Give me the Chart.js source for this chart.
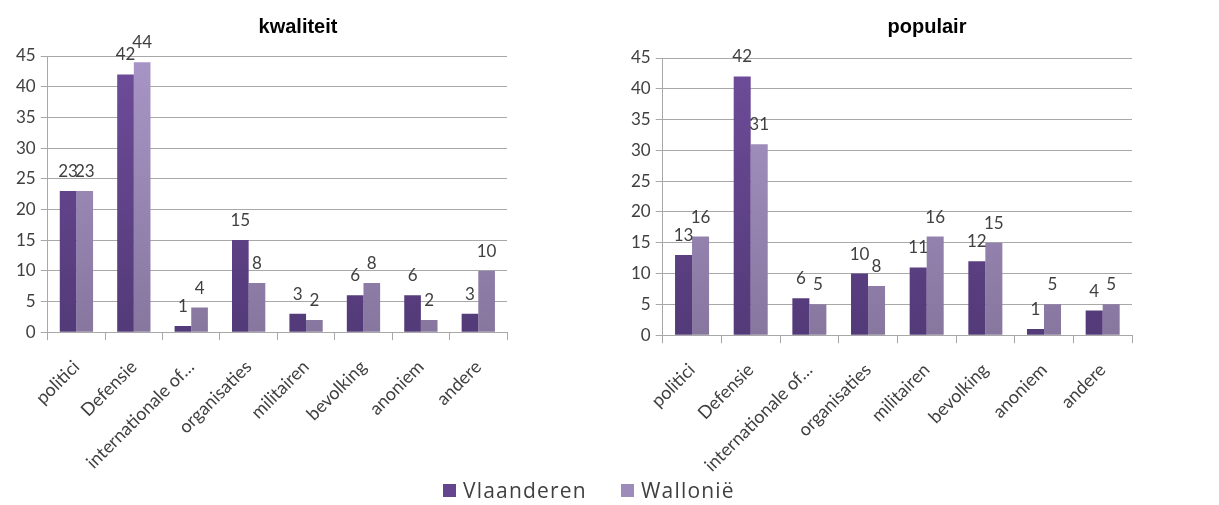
<!DOCTYPE html>
<html>
<head>
<meta charset="utf-8">
<script src="https://cdn.jsdelivr.net/npm/chart.js@4.4.0/dist/chart.umd.min.js"></script>
<style>
body { margin: 0; background: #fff; width: 1219px; height: 505px; overflow: hidden; position: relative; font-family: Lato, sans-serif; }
canvas { position: absolute; top: 0; }
#kwaliteit { left: 0; }
#populair { left: 608px; }
.legend { position: absolute; top: 476px; left: 443px; display: flex; align-items: center; font-family: 'Open Sans', sans-serif; font-size: 21px; letter-spacing: 1.2px; color: #404040; }
.legend span.box { display: inline-block; width: 13px; height: 13px; margin-right: 7px; }
.legend .item { display: flex; align-items: center; margin-right: 34px; }
</style>
</head>
<body>
<canvas id="kwaliteit" width="605" height="489"></canvas>
<canvas id="populair" width="620" height="492"></canvas>
<div class="legend">
  <div class="item"><span class="box" style="background:#65468e"></span>Vlaanderen</div>
  <div class="item"><span class="box" style="background:#9d8bba"></span>Wallonië</div>
</div>
<script>
// categorieën en waarden per bron
const categories = ['politici', 'Defensie', 'internationale of…', 'organisaties', 'militairen', 'bevolking', 'anoniem', 'andere'];
const yTicks = [0, 5, 10, 15, 20, 25, 30, 35, 40, 45];

const kwaliteitVlaanderen = [23, 42, 1, 15, 3, 6, 6, 3];
const kwaliteitWallonie = [23, 44, 4, 8, 2, 8, 2, 10];

const populairVlaanderen = [13, 42, 6, 10, 11, 12, 1, 4];
const populairWallonie = [16, 31, 5, 8, 16, 15, 5, 5];

const textColor = '#404040';
const lineColor = '#a8a8a8';

// verticale kleurverloop per balk
function shade(top, bottom) {
    return function(context) {
        const chart = context.chart;
        const area = chart.chartArea;
        if (!area) return top;
        const g = chart.ctx.createLinearGradient(0, area.top, 0, area.bottom);
        g.addColorStop(0, top);
        g.addColorStop(1, bottom);
        return g;
    };
}

// waarden boven de balken
const valueLabels = {
    id: 'valueLabels',
    afterDatasetsDraw(chart) {
        const ctx = chart.ctx;
        ctx.save();
        ctx.font = '17px Lato';
        ctx.fillStyle = textColor;
        ctx.textAlign = 'center';
        ctx.textBaseline = 'bottom';
        chart.data.datasets.forEach((ds, i) => {
            chart.getDatasetMeta(i).data.forEach((bar, j) => {
                ctx.fillText(ds.data[j], bar.x, bar.y - 11);
            });
        });
        ctx.restore();
    }
};

// rightSpace = lege ruimte rechts van het diagram (daar stond de legende)
function makeChart(id, title, vl, wa, pad, titleGap, rightSpace) {
    const ctx = document.getElementById(id).getContext('2d');
    return new Chart(ctx, {
        type: 'bar',
        data: {
            labels: categories,
            datasets: [
                { label: 'Vlaanderen', data: vl, backgroundColor: shade('#6e4c9a', '#533a78') },
                { label: 'Wallonië', data: wa, backgroundColor: shade('#a895c6', '#87779f') }
            ]
        },
        options: {
            responsive: false,
            animation: false,
            categoryPercentage: 0.58,
            barPercentage: 1.0,
            layout: { padding: pad },
            plugins: {
                legend: { display: false },
                tooltip: { enabled: false },
                title: {
                    display: true,
                    text: title,
                    color: '#000',
                    font: { family: 'Liberation Sans', size: 20, weight: 'bold' },
                    padding: { top: 15, bottom: titleGap }
                }
            },
            scales: {
                x: {
                    grid: { offset: true, drawOnChartArea: false, drawTicks: true, tickLength: 8, color: lineColor },
                    border: { color: lineColor },
                    ticks: { color: textColor, font: { family: 'Lato', size: 18 }, padding: 16, maxRotation: 45, minRotation: 45, autoSkip: false }
                },
                y: {
                    min: 0,
                    max: 45,
                    afterBuildTicks: axis => { axis.ticks = yTicks.map(v => ({ value: v })); },
                    grid: { color: lineColor, tickLength: 7 },
                    border: { color: lineColor },
                    ticks: { color: textColor, font: { family: 'Lato', size: 17 }, padding: 5 }
                },
                spacer: {
                    type: 'linear',
                    position: 'right',
                    grid: { display: false },
                    border: { display: false },
                    ticks: { display: false },
                    afterFit: axis => { axis.width = rightSpace; }
                }
            }
        },
        plugins: [valueLabels]
    });
}

makeChart('kwaliteit', 'kwaliteit', kwaliteitVlaanderen, kwaliteitWallonie, { left: 11, right: 20, bottom: 0 }, 17, 78);
makeChart('populair', 'populair', populairVlaanderen, populairWallonie, { left: 18, right: 0, bottom: 0 }, 19, 96);
</script>
</body>
</html>
